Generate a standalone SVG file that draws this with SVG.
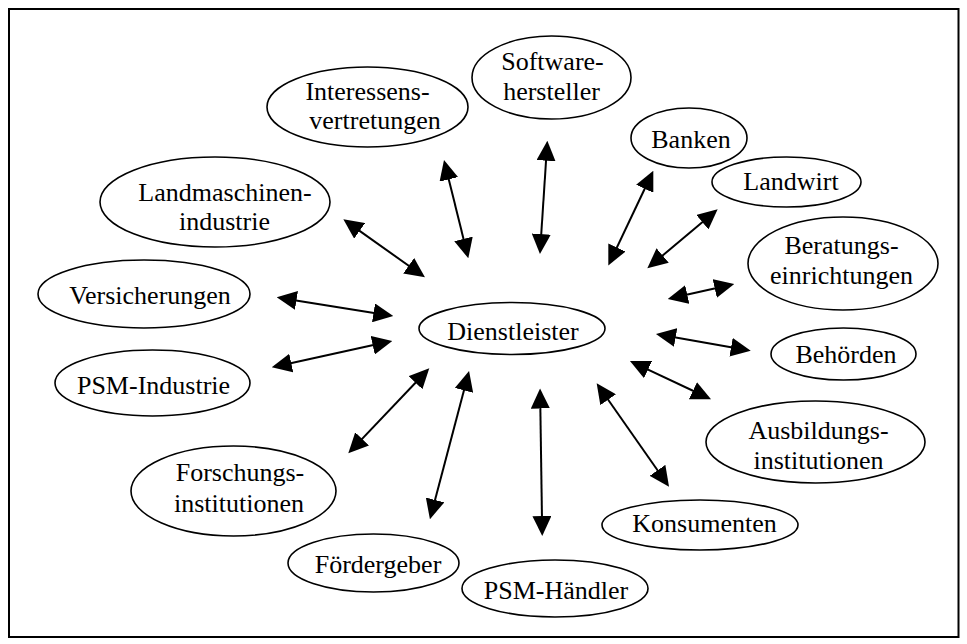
<svg xmlns="http://www.w3.org/2000/svg" width="967" height="644" viewBox="0 0 967 644">
<style>
.n ellipse{fill:#fff;stroke:#000;stroke-width:1.6}
text{font-family:'Liberation Serif','Times New Roman','DejaVu Serif',serif;font-size:26px;fill:#000;text-anchor:middle}
.c line{stroke:#000;stroke-width:2;marker-start:url(#ah);marker-end:url(#ah)}
</style>
<defs>
<marker id="ah" viewBox="0 0 20 19" refX="10" refY="9.5" markerWidth="20" markerHeight="19" markerUnits="userSpaceOnUse" orient="auto-start-reverse">
<path d="M0,0 L20,9.5 L0,19 z" fill="#000"/>
</marker>
</defs>
<rect x="0" y="0" width="967" height="644" fill="#fff"/>
<rect x="9" y="9" width="949.5" height="628" fill="none" stroke="#000" stroke-width="2"/>

<g id="dienstleister" class="n"><ellipse cx="512" cy="328.5" rx="93" ry="26"/><text x="513" y="340" font-family="Liberation Serif, serif">Dienstleister</text></g>
<g id="software" class="n"><ellipse cx="551.5" cy="77.5" rx="79.5" ry="41.5"/><text x="552.5" y="70">Software-</text><text x="551.5" y="100">hersteller</text></g>
<g id="interessens" class="n"><ellipse cx="367.5" cy="107" rx="100.5" ry="40"/><text x="367.5" y="99.5">Interessens-</text><text x="375" y="128.5">vertretungen</text></g>
<g id="banken" class="n"><ellipse cx="689" cy="138" rx="58" ry="30"/><text x="691" y="147.5">Banken</text></g>
<g id="landwirt" class="n"><ellipse cx="786.5" cy="182" rx="74.5" ry="25"/><text x="791" y="189.5">Landwirt</text></g>
<g id="beratung" class="n"><ellipse cx="843" cy="263.5" rx="95" ry="46.5"/><text x="841.5" y="254">Beratungs-</text><text x="841.5" y="283.5">einrichtungen</text></g>
<g id="behoerden" class="n"><ellipse cx="843.5" cy="354" rx="72.5" ry="26"/><text x="846" y="363">Behörden</text></g>
<g id="ausbildung" class="n"><ellipse cx="815.5" cy="442" rx="109.5" ry="41"/><text x="818.5" y="438.5">Ausbildungs-</text><text x="818.5" y="468.5">institutionen</text></g>
<g id="konsumenten" class="n"><ellipse cx="700" cy="525" rx="98" ry="25"/><text x="704.5" y="532">Konsumenten</text></g>
<g id="psmhaendler" class="n"><ellipse cx="555" cy="588.5" rx="93" ry="28.5"/><text x="556" y="598.5">PSM-Händler</text></g>
<g id="foerdergeber" class="n"><ellipse cx="373.5" cy="563" rx="85.5" ry="29"/><text x="378" y="573">Fördergeber</text></g>
<g id="forschung" class="n"><ellipse cx="233.5" cy="491" rx="102.5" ry="45"/><text x="240" y="480.5">Forschungs-</text><text x="239" y="511.5">institutionen</text></g>
<g id="psmindustrie" class="n"><ellipse cx="152.5" cy="383" rx="97.5" ry="33"/><text x="153.5" y="393.5">PSM-Industrie</text></g>
<g id="versicherungen" class="n"><ellipse cx="144" cy="294" rx="106" ry="34"/><text x="150" y="304">Versicherungen</text></g>
<g id="landmaschinen" class="n"><ellipse cx="215" cy="202" rx="115" ry="45"/><text x="225" y="200.5">Landmaschinen-</text><text x="224.5" y="230">industrie</text></g>

<g id="connectors" class="c">
<line x1="351.5" y1="225.1" x2="416.8" y2="271.5"/>
<line x1="446.4" y1="169.7" x2="465.9" y2="248.6"/>
<line x1="546.7" y1="150.7" x2="540.6" y2="244.0"/>
<line x1="649.0" y1="179.7" x2="612.6" y2="256.5"/>
<line x1="710.0" y1="215.7" x2="655.0" y2="261.9"/>
<line x1="724.5" y1="286.2" x2="677.5" y2="296.8"/>
<line x1="665.8" y1="335.7" x2="740.9" y2="349.0"/>
<line x1="639.0" y1="365.3" x2="702.0" y2="395.0"/>
<line x1="602.4" y1="391.5" x2="663.3" y2="478.5"/>
<line x1="540.2" y1="398.5" x2="542.1" y2="526.0"/>
<line x1="466.5" y1="380.7" x2="432.5" y2="509.6"/>
<line x1="422.4" y1="375.5" x2="355.2" y2="446.1"/>
<line x1="382.5" y1="343.1" x2="281.5" y2="365.2"/>
<line x1="286.6" y1="298.9" x2="383.4" y2="314.4"/>
</g>
</svg>
